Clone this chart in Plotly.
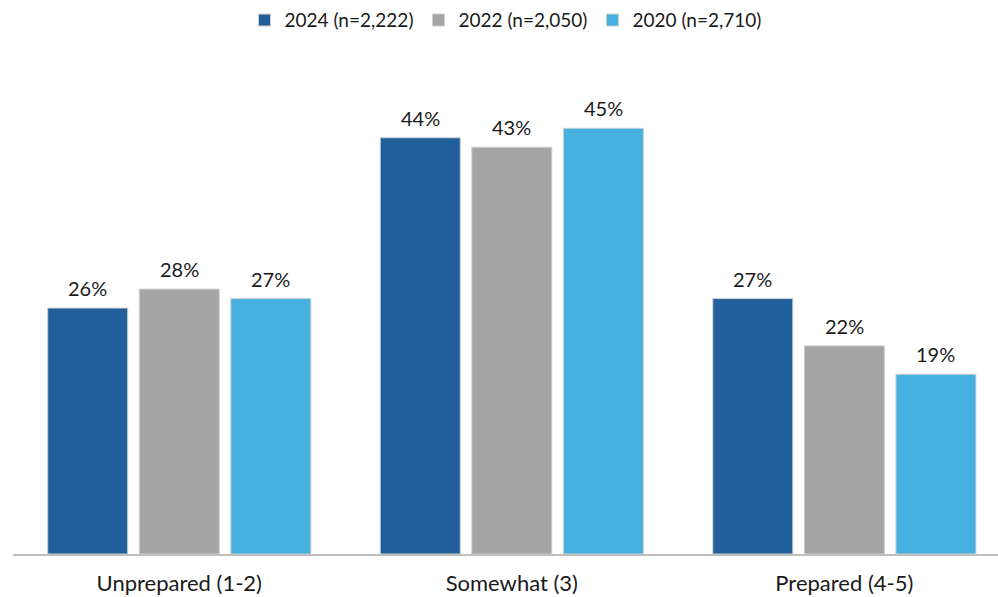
import plotly.graph_objects as go

categories = ["Unprepared (1-2)", "Somewhat (3)", "Prepared (4-5)"]
series_names = ["2024 (n=2,222)", "2022 (n=2,050)", "2020 (n=2,710)"]
values_2024 = [26, 44, 27]
values_2022 = [28, 43, 22]
values_2020 = [27, 45, 19]
colors = ["#215F9A", "#A5A5A5", "#46B1E1"]

FONT = "Lato, 'Open Sans', sans-serif"
BAR_SLOT = 91.5  # horizontal distance in px between neighbouring bars in a group

fig = go.Figure()
all_series = [values_2024, values_2022, values_2020]
for name, vals, col in zip(series_names, all_series, colors):
    fig.add_trace(go.Bar(
        name=name,
        x=categories,
        y=vals,
        marker=dict(color=col, line=dict(color="#D0D0D0", width=1)),
        cliponaxis=False,
    ))

# value labels above each bar
for i, vals in enumerate(all_series):
    for cat, v in zip(categories, vals):
        fig.add_annotation(
            x=cat, y=v, xref="x", yref="y",
            text=f"{v}%", showarrow=False,
            xshift=(i - 1) * BAR_SLOT, yshift=6,
            yanchor="bottom", xanchor="center",
            font=dict(size=20, color="#1a1a1a", family=FONT),
        )

fig.update_layout(
    width=998, height=597,
    margin=dict(l=13, r=0, t=81, b=43),
    barmode="group",
    bargap=0.174,
    bargroupgap=0.126,
    plot_bgcolor="white",
    paper_bgcolor="white",
    font=dict(family=FONT, size=20, color="#1a1a1a"),
    showlegend=True,
    legend=dict(
        orientation="h", x=0.5, xanchor="center", y=0.998, yref="container",
        yanchor="top", font=dict(size=19), itemwidth=30,
        traceorder="normal",
    ),
)
fig.update_xaxes(
    range=[-0.5, 2.462],
    showline=True, linecolor="#BFBFBF", linewidth=2,
    ticks="outside", ticklen=9, tickcolor="rgba(0,0,0,0)",
    tickfont=dict(size=22),
)
fig.update_yaxes(range=[0, 50], visible=False, showgrid=False, zeroline=False)

fig.write_html("out.html")
